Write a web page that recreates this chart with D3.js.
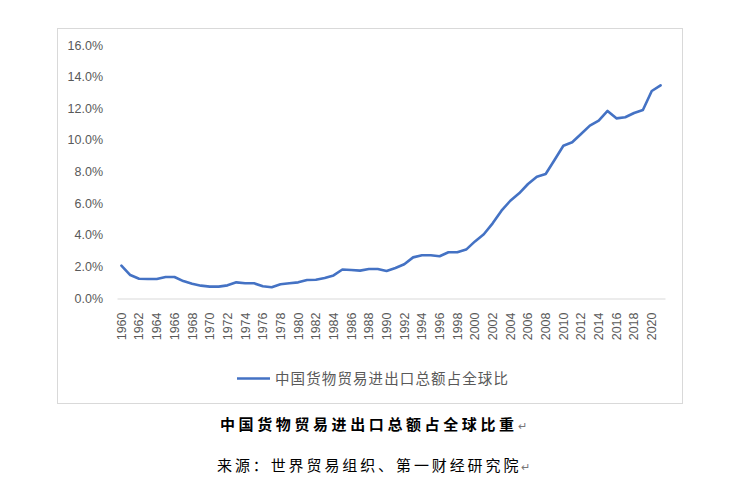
<!DOCTYPE html>
<html>
<head>
<meta charset="utf-8">
<script src="https://cdn.jsdelivr.net/npm/d3@7"></script>
<style>
  body { margin: 0; background: #fff; }
  svg { display: block; }
</style>
</head>
<body>
<svg id="chart" width="740" height="488"></svg>
<script>
// years and China's share of world merchandise trade (%)
const years = d3.range(1960, 2022);
const share = [
    2.05, 1.45, 1.22, 1.2, 1.2, 1.33, 1.33, 1.07, 0.9, 0.78,
    0.72, 0.72, 0.8, 0.99, 0.93, 0.93, 0.74, 0.68, 0.87, 0.93,
    0.99, 1.14, 1.15, 1.27, 1.43, 1.8, 1.77, 1.73, 1.83, 1.83,
    1.71, 1.9, 2.13, 2.57, 2.7, 2.7, 2.64, 2.89, 2.89, 3.06,
    3.58, 4.03, 4.72, 5.52, 6.15, 6.62, 7.21, 7.67, 7.84, 8.73,
    9.63, 9.85, 10.37, 10.9, 11.22, 11.83, 11.36, 11.43, 11.7, 11.89,
    13.09, 13.45
];
const yTicks = [0, 2, 4, 6, 8, 10, 12, 14, 16];
const seriesName = '中国货物贸易进出口总额占全球比';
const title = '中国货物贸易进出口总额占全球比重';
const source = '来源：世界贸易组织、第一财经研究院';

const svg = d3.select('#chart');

// chart frame
svg.append('rect')
    .attr('x', 57.5).attr('y', 28.5)
    .attr('width', 625).attr('height', 375)
    .attr('fill', '#fff')
    .attr('stroke', '#d9d9d9');

const x = d3.scaleBand()
    .domain(years)
    .range([117, 665]);

const y = d3.scaleLinear()
    .domain([0, 16])
    .range([298, 45]);

// y axis labels
const yAxis = svg.append('g')
    .attr('transform', 'translate(103,0)')
    .call(d3.axisLeft(y).tickValues(yTicks).tickSize(0).tickPadding(0)
        .tickFormat(d => d.toFixed(1) + '%'));
yAxis.select('.domain').remove();
yAxis.selectAll('text')
    .attr('font-family', 'Liberation Sans, Arial, sans-serif')
    .attr('font-size', 12.5)
    .attr('fill', '#595959');

// x axis
const xAxis = svg.append('g')
    .attr('transform', 'translate(0,298.5)')
    .call(d3.axisBottom(x).tickValues(years.filter(d => d % 2 === 0)).tickSize(0));
xAxis.select('.domain').attr('stroke', '#d9d9d9');
xAxis.selectAll('text')
    .attr('font-family', 'Liberation Sans, Arial, sans-serif')
    .attr('font-size', 12.5)
    .attr('fill', '#595959')
    .attr('transform', 'rotate(-90)')
    .attr('text-anchor', 'end')
    .attr('x', -14)
    .attr('y', 0)
    .attr('dy', '0.35em');

// the line
const line = d3.line()
    .x((d, i) => x(years[i]) + x.bandwidth() / 2)
    .y(d => y(d));

svg.append('path')
    .datum(share)
    .attr('d', line)
    .attr('fill', 'none')
    .attr('stroke', '#4472c4')
    .attr('stroke-width', 2.6)
    .attr('stroke-linejoin', 'round')
    .attr('stroke-linecap', 'round');

// legend
svg.append('line')
    .attr('x1', 237).attr('x2', 270)
    .attr('y1', 378.5).attr('y2', 378.5)
    .attr('stroke', '#4472c4')
    .attr('stroke-width', 2.6);
svg.append('text')
    .attr('x', 275).attr('y', 378.5)
    .attr('dy', '0.35em')
    .attr('font-family', 'Noto Sans CJK SC, sans-serif')
    .attr('font-size', 14.5)
    .attr('letter-spacing', 1.1)
    .attr('fill', '#595959')
    .text(seriesName);

// caption below the chart
const titleText = svg.append('text')
    .attr('x', 220).attr('y', 425)
    .attr('dy', '0.35em')
    .attr('font-family', 'Noto Sans CJK SC, sans-serif')
    .attr('font-size', 15)
    .attr('font-weight', 'bold')
    .attr('letter-spacing', 3.6)
    .attr('fill', '#000')
    .text(title);
titleText.append('tspan')
    .attr('font-size', 11).attr('font-weight', 'normal')
    .attr('fill', '#777').attr('letter-spacing', 0)
    .text('↵');

const sourceText = svg.append('text')
    .attr('x', 217).attr('y', 466)
    .attr('dy', '0.35em')
    .attr('font-family', 'Noto Sans CJK SC, sans-serif')
    .attr('font-size', 15)
    .attr('letter-spacing', 2.9)
    .attr('fill', '#000')
    .text(source);
sourceText.append('tspan')
    .attr('font-size', 11)
    .attr('fill', '#777').attr('letter-spacing', 0)
    .text('↵');
</script>
</body>
</html>
